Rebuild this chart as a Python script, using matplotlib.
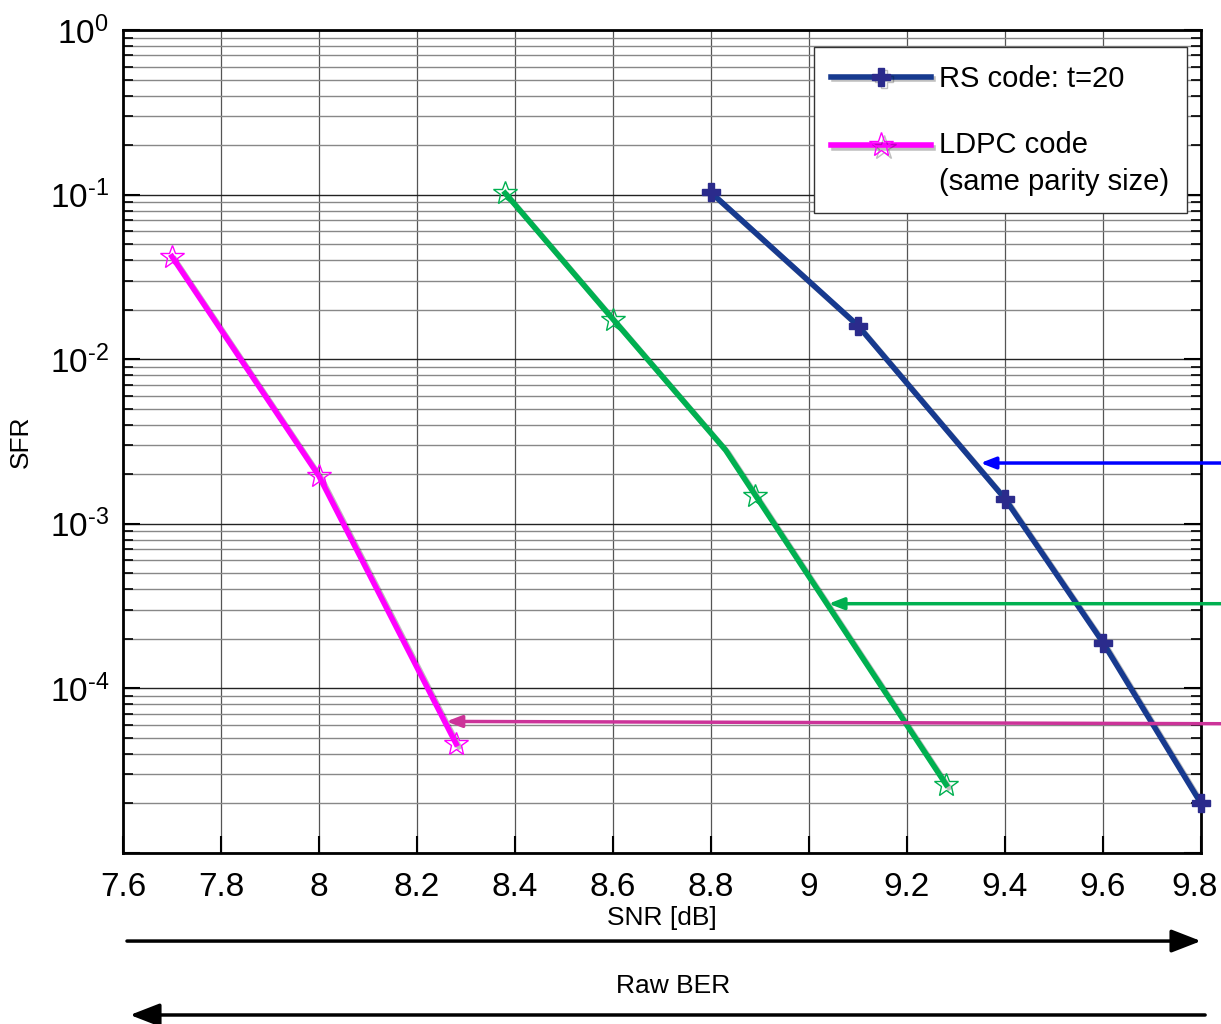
import math
import matplotlib
matplotlib.use("Agg")
import matplotlib.pyplot as plt
import matplotlib.patheffects as pe
import matplotlib.transforms as mtrans
from matplotlib.patches import FancyArrowPatch
from matplotlib.legend_handler import HandlerLine2D
from matplotlib.ticker import FixedLocator, LogLocator, FuncFormatter, NullFormatter

plt.rcParams['font.family'] = ['Liberation Sans', 'DejaVu Sans']
plt.rcParams['mathtext.fontset'] = 'custom'
plt.rcParams['mathtext.rm'] = 'Liberation Sans'
plt.rcParams['mathtext.it'] = 'Liberation Sans'

# RS code t=20
rs_snr = [8.8, 9.1, 9.4, 9.6, 9.8]
rs_sfr = [1.03e-1, 1.6e-2, 1.42e-3, 1.9e-4, 2.0e-5]

# LDPC code (same parity size)
ldpc_snr = [7.7, 8.0, 8.28]
ldpc_sfr = [4.2e-2, 1.95e-3, 4.6e-5]

# green curve (no legend entry): line vertices and marker points
grn_line_snr = [8.38, 8.6, 8.83, 9.28]
grn_line_sfr = [1.02e-1, 1.75e-2, 2.8e-3, 2.6e-5]
grn_snr = [8.38, 8.6, 8.89, 9.28]
grn_sfr = [1.02e-1, 1.73e-2, 1.47e-3, 2.6e-5]

# arrow targets (snr at tip, sfr at tip, sfr at tail, colour)
arrows = [
    (9.35, 2.34e-3, 2.34e-3, '#0000FF'),
    (9.04, 3.27e-4, 3.27e-4, '#00B050'),
    (8.26, 6.3e-5, 6.1e-5, '#CC3399'),
]

xticks = [7.6, 7.8, 8.0, 8.2, 8.4, 8.6, 8.8, 9.0, 9.2, 9.4, 9.6, 9.8]
xticklabels = ['7.6', '7.8', '8', '8.2', '8.4', '8.6', '8.8', '9', '9.2', '9.4', '9.6', '9.8']

fig = plt.figure(figsize=(12.21, 10.24), dpi=100)
ax = fig.add_axes([0.1007, 0.167, 0.8829, 0.8037])

shadow = [pe.SimpleLineShadow(offset=(2, -2), alpha=0.25), pe.Normal()]

ax.plot(grn_line_snr, grn_line_sfr, color='#00B050', lw=4, path_effects=shadow, zorder=3)
ax.plot(grn_snr, grn_sfr, ls='none', marker='*', ms=18, mfc='none', mec='#00B050',
        mew=1, zorder=4)

ax.plot(ldpc_snr, ldpc_sfr, color='#FF00FF', lw=4, path_effects=shadow, zorder=3)
ax.plot(ldpc_snr, ldpc_sfr, ls='none', marker='*', ms=18, mfc='none', mec='#FF00FF',
        mew=1, zorder=4)

ax.plot(rs_snr, rs_sfr, color='#173A8F', lw=4, path_effects=shadow, zorder=3)
ax.plot(rs_snr, rs_sfr, ls='none', marker='P', ms=13, color='#2B2B8C', zorder=4,
        clip_on=False)


# legend handle lifted to the first line of a two-line label
class TopHandler(HandlerLine2D):
    def create_artists(self, legend, orig_handle, xdescent, ydescent, width, height,
                       fontsize, trans):
        arts = super().create_artists(legend, orig_handle, xdescent, ydescent, width,
                                      height, fontsize, trans)
        for a in arts:
            a.set_ydata([y + 0.65 * fontsize for y in a.get_ydata()])
        return arts


h1, = ax.plot([], [], color='#173A8F', lw=4, marker='P', ms=13, mfc='#2B2B8C',
              mec='#2B2B8C', path_effects=shadow)
h2, = ax.plot([], [], color='#FF00FF', lw=4, marker='*', ms=18, mfc='none',
              mec='#FF00FF', mew=1, path_effects=shadow)
leg = ax.legend([h1, h2], ['RS code: t=20', 'LDPC code\n(same parity size)'],
                handler_map={h2: TopHandler()},
                loc='upper right', bbox_to_anchor=(0.987, 0.979), borderaxespad=0,
                fontsize=21, frameon=True, fancybox=False, edgecolor='#333333',
                framealpha=1, handlelength=3.4, labelspacing=1.3, borderpad=0.6,
                handletextpad=0.3)
leg.get_texts()[1].set_linespacing(1.4)
leg.get_frame().set_linewidth(1.0)
leg.set_zorder(6)

ax.set_yscale('log')
ax.set_xlim(7.6, 9.8)
ax.set_ylim(1e-5, 1)

ax.xaxis.set_major_locator(FixedLocator(xticks))
ax.set_xticklabels(xticklabels)
ax.yaxis.set_major_locator(LogLocator(base=10, numticks=10))
ax.yaxis.set_minor_locator(LogLocator(base=10, subs=range(2, 10), numticks=20))
ax.yaxis.set_minor_formatter(NullFormatter())


def fmt(v, pos):
    e = int(round(math.log10(v)))
    if e <= -5:
        return ''
    if e < 0:
        return r'$\mathregular{10^{\text{-}%d}}$' % (-e)
    return r'$\mathregular{10^{%d}}$' % e


ax.yaxis.set_major_formatter(FuncFormatter(fmt))

ax.tick_params(axis='both', which='major', direction='in', length=12, width=1.5,
               labelsize=24, top=False, right=True, pad=10)
ax.tick_params(axis='y', which='minor', direction='in', length=7, width=1.2, right=True)
ax.tick_params(axis='x', which='major', pad=14)

# last x label sits a little left so it stays inside the figure
last = ax.get_xticklabels()[-1]
last.set_transform(last.get_transform() +
                   mtrans.ScaledTranslation(-0.06, 0, fig.dpi_scale_trans))

ax.grid(True, which='major', axis='y', color='#222222', lw=1.0)
ax.grid(True, which='minor', axis='y', color='#888888', lw=1.0)
ax.grid(True, which='major', axis='x', color='#555555', lw=0.9)
ax.set_axisbelow(True)

for s in ax.spines.values():
    s.set_linewidth(2)
    s.set_color('black')

ax.set_ylabel('SFR', fontsize=19)
ax.yaxis.set_label_coords(-0.084, 0.5)
ax.set_xlabel('SNR [dB]', fontsize=19, labelpad=2)

# arrows from the right edge of the figure to the curves
for x_tip, y_tip, y_tail, col in arrows:
    ax.annotate('', xy=(x_tip, y_tip), xytext=(1.0, y_tail),
                textcoords=('figure fraction', 'data'), annotation_clip=False,
                arrowprops=dict(arrowstyle='-|>,head_length=0.9,head_width=0.35',
                                color=col, lw=2.5, shrinkA=0, shrinkB=0))

# SNR / raw BER direction arrows below the axes
fig.patches.append(FancyArrowPatch(
    (0.104, 0.081), (0.9836, 0.081), transform=fig.transFigure,
    arrowstyle='-|>,head_length=0.9,head_width=0.35', mutation_scale=20,
    color='black', lw=2.5, shrinkA=0, shrinkB=0))
fig.text(0.551, 0.037, 'Raw BER', fontsize=19, ha='center', va='center')
fig.patches.append(FancyArrowPatch(
    (0.987, 0.0088), (0.1065, 0.0088), transform=fig.transFigure,
    arrowstyle='-|>,head_length=0.9,head_width=0.35', mutation_scale=20,
    color='black', lw=2.5, shrinkA=0, shrinkB=0))

fig.savefig('out.png', dpi=100)
